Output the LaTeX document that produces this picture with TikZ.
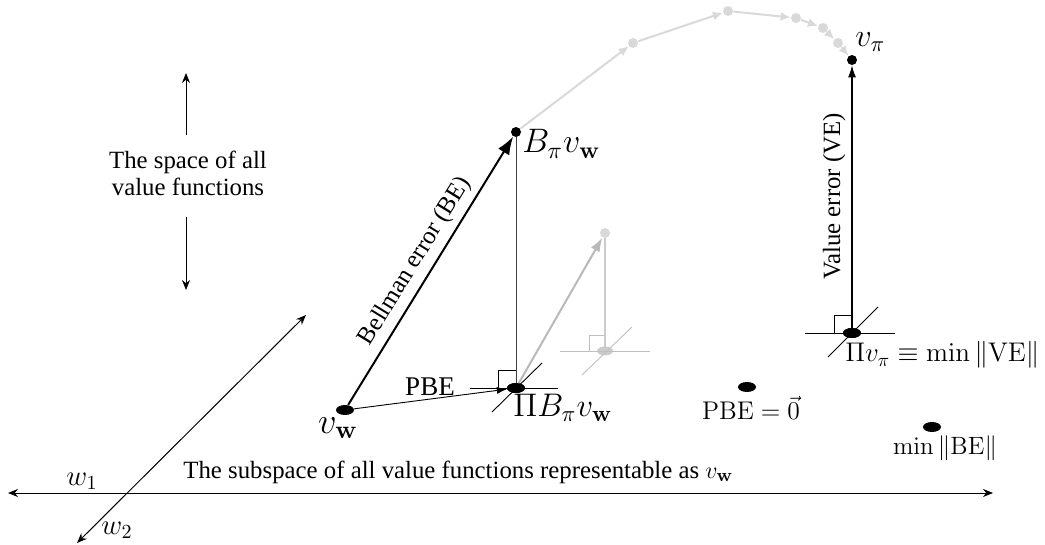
\documentclass[tikz,border=0pt]{standalone}
\usepackage[no-math]{fontspec}
\setmainfont{Liberation Serif}
\usetikzlibrary{arrows.meta,shapes.geometric,calc}
\begin{document}
\begin{tikzpicture}[x=0.5pt,y=-0.5pt,
  txt/.style={font=\fontsize{12.4}{13.5}\selectfont, inner sep=0pt},
  big/.style={font=\fontsize{14.4}{17}\selectfont, inner sep=0pt},
  mid/.style={font=\fontsize{14.4}{17}\selectfont, inner sep=0pt},
  sm/.style={font=\fontsize{12}{15}\selectfont, inner sep=0pt},
  dot/.style={circle, fill=black, inner sep=0pt, minimum size=5pt},
  edot/.style={ellipse, fill=black, inner sep=0pt, minimum width=9pt, minimum height=5pt},
  gdot/.style={circle, fill=gray!30, inner sep=0pt, minimum size=5pt},
  gedot/.style={ellipse, fill=gray!40, inner sep=0pt, minimum width=8pt, minimum height=4.5pt},
  axis/.style={line width=0.5pt, {Stealth[length=5pt,width=4pt]}-{Stealth[length=5pt,width=4pt]}},
  vaxis/.style={line width=0.5pt, -{Stealth[length=5pt,width=4pt]}},
  traj/.style={gray!30, line width=1pt, -{Latex[length=5pt,width=4.5pt]}},
  bearrow/.style={line width=1pt, -{Latex[length=9pt,width=6.5pt]}},
  pbearrow/.style={line width=0.45pt, -{Latex[length=5pt,width=3.5pt]}},
  vearrow/.style={line width=0.6pt, -{Latex[length=6pt,width=4pt]}},
  garrow/.style={gray!55, line width=1pt, -{Latex[length=7pt,width=5pt]}},
  thinline/.style={line width=0.45pt},
  gline/.style={gray!50, line width=0.45pt},
]
\path[use as bounding box] (0,0) rectangle (1045,545);

% axes of the subspace
\coordinate (h1) at (8,493);
\coordinate (h2) at (993,493);
\coordinate (d1) at (77,543);
\coordinate (d2) at (306,315);
\draw[axis] (h1) -- (h2);
\draw[axis] (d1) -- (d2);
\node[mid] (w1l) at (82,481) {$w_1$};
\node[mid] (w2l) at (117,530) {$w_2$};
\node[txt, anchor=west] (subl) at (183,472) {The subspace of all value functions representable as $v_{\mathbf{w}}$};

% space of all value functions
\node[txt, align=center] (spl) at (188,173.5) {The space of all\\value functions};
\coordinate (u1) at (186,135);
\coordinate (u2) at (186,73);
\coordinate (l1) at (186,217);
\coordinate (l2) at (186,290);
\draw[vaxis] (u1) -- (u2);
\draw[vaxis] (l1) -- (l2);

% main points
\node[edot] (vw) at (345,410) {};
\node[dot] (Bv) at (516,132) {};
\node[edot] (PBv) at (516,388) {};
\node[dot] (vpi) at (852,60) {};
\node[edot] (Pvpi) at (852,333) {};
\node[edot] (pbe0) at (747,387) {};
\node[edot] (minbe) at (932,427) {};

% grey trajectory
\node[gdot] (g1) at (633,43) {};
\node[gdot] (g2) at (728,11) {};
\node[gdot] (g3) at (796,18) {};
\node[gdot] (g4) at (823,28) {};
\node[gdot] (g5) at (838,43) {};
\draw[traj] (Bv) -- (g1);
\draw[traj] (g1) -- (g2);
\draw[traj] (g2) -- (g3);
\draw[traj] (g3) -- (g4);
\draw[traj] (g4) -- (g5);
\draw[traj] (g5) -- (vpi);

% grey projection
\node[gdot] (gP) at (605,233) {};
\node[gedot] (gPP) at (605,351) {};
\draw[gline] ($(gPP)+(-45,0)$) -- ($(gPP)+(45,0)$);
\draw[gline] ($(gPP)+(-23,24)$) -- ($(gPP)+(27,-24)$);
\draw[gline] ($(gPP)+(-16,0)$) -- ++(0,-16) -- ++(16,0);
\draw[gray!40, line width=0.7pt] (gP) -- (gPP.center);
\draw[garrow] (PBv.center) -- (gP);

% projection of B v_w
\draw[thinline] ($(PBv)+(-46,0)$) -- ($(PBv)+(42,0)$);
\draw[thinline] ($(PBv)+(-24,24)$) -- ($(PBv)+(26,-25)$);
\draw[thinline] ($(PBv)+(-18,0)$) -- ++(0,-18) -- ++(18,0);
\draw[black!75, line width=0.5pt] (Bv) -- (PBv.center);
\node[edot] at (PBv) {};

% projection of v_pi
\draw[thinline] ($(Pvpi)+(-47,0)$) -- ($(Pvpi)+(43,0)$);
\draw[thinline] ($(Pvpi)+(-24,24)$) -- ($(Pvpi)+(26,-26)$);
\draw[thinline] ($(Pvpi)+(-18,0)$) -- ++(0,-18) -- ++(18,0);
\node[edot] at (Pvpi) {};

% error arrows
\draw[bearrow] (vw) -- node[sloped, above, txt, inner sep=3pt] (bel) {Bellman error (BE)} (Bv);
\draw[pbearrow] (vw) -- (PBv);
\node[font=\fontsize{13.5}{15}\selectfont, inner sep=0pt] (pbel) at (430,387) {PBE};
\draw[vearrow] (Pvpi) -- node[sloped, above, txt, inner sep=3pt] (vel) {Value error (VE)} (vpi);

% labels
\node[big] (vwl) at (338,428) {\resizebox{20pt}{!}{$v_{\mathbf{w}}$}};
\node[big, anchor=base west] (Bvl) at (522,153) {\resizebox{39pt}{!}{$B_\pi v_{\mathbf{w}}$}};
\node[big, anchor=base west] (PBvl) at (513,417) {\resizebox{49.5pt}{!}{$\Pi B_\pi v_{\mathbf{w}}$}};
\node[big, anchor=base west] (vpil) at (855,47) {\resizebox{15pt}{!}{$v_\pi$}};
\node[mid, anchor=base west] (Pvpil) at (845,362) {\resizebox{97pt}{!}{$\Pi v_\pi \equiv \min\|\mathrm{VE}\|$}};
\node[sm] (pbe0l) at (751,408) {\resizebox{49pt}{!}{$\mathrm{PBE}=\vec{0}$}};
\node[sm] (minbel) at (945,448) {\resizebox{52pt}{!}{$\min\|\mathrm{BE}\|$}};
\end{tikzpicture}
\end{document}
